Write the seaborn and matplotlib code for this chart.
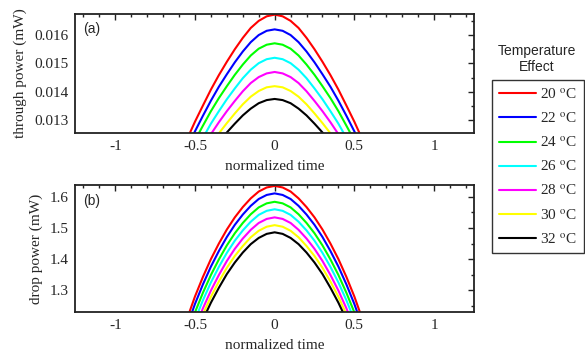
import matplotlib
matplotlib.use("Agg")
import matplotlib.pyplot as plt
import seaborn as sns
import pandas as pd
from matplotlib.ticker import MultipleLocator

# normalized time samples
time = [-0.55, -0.50, -0.45, -0.40, -0.35, -0.30, -0.25, -0.20, -0.15, -0.10, -0.05, 0.0,
        0.05, 0.10, 0.15, 0.20, 0.25, 0.30, 0.35, 0.40, 0.45, 0.50, 0.55]
temps = ["20", "22", "24", "26", "28", "30", "32"]
colors = ["#ff0000", "#0000ff", "#00ff00", "#00ffff", "#ff00ff", "#ffff00", "#000000"]

# through power (mW)
through_20 = [0.01233, 0.01295, 0.01352, 0.01408, 0.01459, 0.01506, 0.01550, 0.01590, 0.01625, 0.01650, 0.01666, 0.01672,
              0.01666, 0.01650, 0.01625, 0.01590, 0.01550, 0.01506, 0.01459, 0.01408, 0.01352, 0.01295, 0.01233]
through_22 = [0.01203, 0.01261, 0.01316, 0.01369, 0.01418, 0.01462, 0.01504, 0.01542, 0.01575, 0.01600, 0.01615, 0.01620,
              0.01615, 0.01600, 0.01575, 0.01542, 0.01504, 0.01462, 0.01418, 0.01369, 0.01316, 0.01261, 0.01203]
through_24 = [0.01174, 0.01229, 0.01281, 0.01332, 0.01378, 0.01420, 0.01460, 0.01496, 0.01528, 0.01552, 0.01566, 0.01571,
              0.01566, 0.01552, 0.01528, 0.01496, 0.01460, 0.01420, 0.01378, 0.01332, 0.01281, 0.01229, 0.01174]
through_26 = [0.01134, 0.01188, 0.01238, 0.01288, 0.01332, 0.01374, 0.01412, 0.01448, 0.01478, 0.01501, 0.01515, 0.01520,
              0.01515, 0.01501, 0.01478, 0.01448, 0.01412, 0.01374, 0.01332, 0.01288, 0.01238, 0.01188, 0.01134]
through_28 = [0.01106, 0.01157, 0.01204, 0.01251, 0.01293, 0.01332, 0.01368, 0.01402, 0.01431, 0.01452, 0.01465, 0.01470,
              0.01465, 0.01452, 0.01431, 0.01402, 0.01368, 0.01332, 0.01293, 0.01251, 0.01204, 0.01157, 0.01106]
through_30 = [0.01078, 0.01126, 0.01170, 0.01214, 0.01254, 0.01290, 0.01324, 0.01356, 0.01383, 0.01403, 0.01416, 0.01420,
              0.01416, 0.01403, 0.01383, 0.01356, 0.01324, 0.01290, 0.01254, 0.01214, 0.01170, 0.01126, 0.01078]
through_32 = [0.01064, 0.01107, 0.01148, 0.01188, 0.01224, 0.01257, 0.01288, 0.01317, 0.01341, 0.01360, 0.01371, 0.01375,
              0.01371, 0.01360, 0.01341, 0.01317, 0.01288, 0.01257, 0.01224, 0.01188, 0.01148, 0.01107, 0.01064]

# drop power (mW)
drop_20 = [1.208, 1.280, 1.343, 1.400, 1.450, 1.495, 1.534, 1.567, 1.595, 1.617, 1.630, 1.635,
           1.630, 1.617, 1.595, 1.567, 1.534, 1.495, 1.450, 1.400, 1.343, 1.280, 1.208]
drop_22 = [1.184, 1.256, 1.319, 1.376, 1.426, 1.471, 1.510, 1.543, 1.571, 1.593, 1.606, 1.611,
           1.606, 1.593, 1.571, 1.543, 1.510, 1.471, 1.426, 1.376, 1.319, 1.256, 1.184]
drop_24 = [1.157, 1.229, 1.292, 1.349, 1.399, 1.444, 1.483, 1.516, 1.544, 1.566, 1.579, 1.584,
           1.579, 1.566, 1.544, 1.516, 1.483, 1.444, 1.399, 1.349, 1.292, 1.229, 1.157]
drop_26 = [1.133, 1.205, 1.268, 1.325, 1.375, 1.420, 1.459, 1.492, 1.520, 1.542, 1.555, 1.560,
           1.555, 1.542, 1.520, 1.492, 1.459, 1.420, 1.375, 1.325, 1.268, 1.205, 1.133]
drop_28 = [1.107, 1.179, 1.242, 1.299, 1.349, 1.394, 1.433, 1.466, 1.494, 1.516, 1.529, 1.534,
           1.529, 1.516, 1.494, 1.466, 1.433, 1.394, 1.349, 1.299, 1.242, 1.179, 1.107]
drop_30 = [1.091, 1.161, 1.223, 1.279, 1.328, 1.372, 1.410, 1.442, 1.470, 1.491, 1.504, 1.509,
           1.504, 1.491, 1.470, 1.442, 1.410, 1.372, 1.328, 1.279, 1.223, 1.161, 1.091]
drop_32 = [1.076, 1.145, 1.206, 1.260, 1.308, 1.352, 1.389, 1.421, 1.448, 1.468, 1.481, 1.486,
           1.481, 1.468, 1.448, 1.421, 1.389, 1.352, 1.308, 1.260, 1.206, 1.145, 1.076]

through = [through_20, through_22, through_24, through_26, through_28, through_30, through_32]
drop = [drop_20, drop_22, drop_24, drop_26, drop_28, drop_30, drop_32]

rows = []
for temp, th, dr in zip(temps, through, drop):
    for t, a, b in zip(time, th, dr):
        rows.append({"time": t, "temp": temp, "through": a, "drop": b})
df = pd.DataFrame(rows)

sns.set_style("white")
plt.rcParams["font.family"] = ["Liberation Serif", "DejaVu Serif"]
plt.rcParams["mathtext.fontset"] = "stix"
plt.rcParams["xtick.direction"] = "in"
plt.rcParams["ytick.direction"] = "in"

fig = plt.figure(figsize=(5.85, 3.51), dpi=100)
ax1 = fig.add_axes([0.129, 0.621, 0.681, 0.339])
ax2 = fig.add_axes([0.129, 0.111, 0.681, 0.362])

palette = dict(zip(temps, colors))
sns.lineplot(data=df, x="time", y="through", hue="temp", palette=palette,
             estimator=None, lw=1.5, ax=ax1, legend=False)
sns.lineplot(data=df, x="time", y="drop", hue="temp", palette=palette,
             estimator=None, lw=1.5, ax=ax2, legend=False)

ax1.set_ylim(0.01255, 0.01674)
ax2.set_ylim(1.23, 1.638)
ax1.yaxis.set_major_locator(MultipleLocator(0.001))
ax1.yaxis.set_minor_locator(MultipleLocator(0.0005))
ax2.yaxis.set_major_locator(MultipleLocator(0.1))
ax2.yaxis.set_minor_locator(MultipleLocator(0.05))
ax1.set_ylabel("through power (mW)", fontsize=11, labelpad=5)
ax2.set_ylabel("drop power (mW)", fontsize=11, labelpad=5)

for ax, tag in [(ax1, "(a)"), (ax2, "(b)")]:
    ax.set_xlim(-1.25, 1.25)
    ax.xaxis.set_minor_locator(MultipleLocator(0.1))
    ax.set_xticks([-1, -0.5, 0, 0.5, 1])
    ax.set_xticklabels(["-1", "-0.5", "0", "0.5", "1"])
    ax.set_xlabel("normalized time", fontsize=11, labelpad=5)
    ax.tick_params(which="both", top=True, right=True, labelsize=11, width=1.0, color="#222222")
    ax.tick_params(which="major", length=4, pad=5)
    ax.tick_params(which="minor", length=2)
    for s in ax.spines.values():
        s.set_linewidth(1.3)
        s.set_color("#222222")
    ax.text(0.02, 0.93, tag, transform=ax.transAxes, ha="left", va="top",
            fontsize=10, family="Liberation Sans")

handles = ax1.get_lines()[:7]
labels = [f"{t} $^\\mathrm{{o}}$C" for t in temps]
leg = fig.legend(handles, labels, loc="upper left", bbox_to_anchor=(492 / 585, 1 - 80 / 351),
                 frameon=True, fancybox=False, edgecolor="black", fontsize=11,
                 handlelength=2.4, handletextpad=0.3, labelspacing=0.62, borderpad=0.45,
                 borderaxespad=0)
leg.get_frame().set_linewidth(1.0)
fig.text(537 / 585, 1 - 59 / 351, "Temperature\nEffect", ha="center", va="center",
         fontsize=10, family="Liberation Sans", linespacing=1.1)

fig.savefig("out.png", dpi=100)
